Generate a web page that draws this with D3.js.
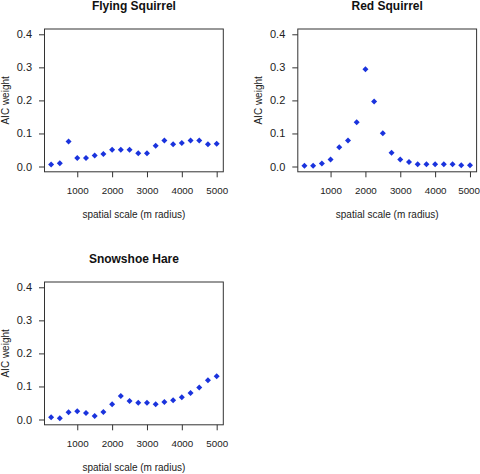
<!DOCTYPE html>
<html><head><meta charset="utf-8">
<script src="https://cdn.jsdelivr.net/npm/d3@7"></script>
<style>
html,body{margin:0;padding:0;background:#fff;}
svg{display:block;font-family:"Liberation Sans",Arial,sans-serif;}
</style></head>
<body>
<svg id="chart" width="480" height="474"></svg>
<script>
const scales = [250,500,750,1000,1250,1500,1750,2000,2250,2500,2750,3000,3250,3500,3750,4000,4250,4500,4750,5000];
const flyingSquirrel = [0.006,0.010,0.076,0.026,0.026,0.033,0.038,0.051,0.051,0.051,0.040,0.040,0.063,0.079,0.067,0.071,0.079,0.079,0.067,0.069];
const redSquirrel = [0.002,0.002,0.009,0.021,0.058,0.079,0.134,0.294,0.197,0.101,0.042,0.021,0.014,0.007,0.007,0.007,0.007,0.007,0.004,0.004];
const snowshoeHare = [0.007,0.004,0.022,0.025,0.020,0.011,0.023,0.046,0.071,0.056,0.051,0.051,0.046,0.053,0.058,0.067,0.080,0.097,0.119,0.131];
const titles = ["Flying Squirrel","Red Squirrel","Snowshoe Hare"];
const xTicks = [1000,2000,3000,4000,5000];
const yTicks = [0.0,0.1,0.2,0.3,0.4];
const xLabel = "spatial scale (m radius)";
const yLabel = "AIC weight";

const panels = [
  {title: titles[0], values: flyingSquirrel, ox: 0, oy: 0},
  {title: titles[1], values: redSquirrel, ox: 253.3, oy: 0},
  {title: titles[2], values: snowshoeHare, ox: 0, oy: 253}
];

const W = 480;
const svg = d3.select("#chart");
const box = {l: 44.5, r: 223.3, t: 29, b: 171.8};
const ink = "#333";

// R-style 4% padded limits
const xr = [250, 5000], yr = [0, 0.4];
const xp = (xr[1]-xr[0])*0.04, yp = (yr[1]-yr[0])*0.04;

panels.forEach(p => {
  const g = svg.append("g").attr("transform", `translate(${p.ox},${p.oy})`);
  const x = d3.scaleLinear().domain([xr[0]-xp, xr[1]+xp]).range([box.l, box.r]);
  const y = d3.scaleLinear().domain([yr[0]-yp, yr[1]+yp]).range([box.b, box.t]);

  g.append("rect").attr("x", box.l).attr("y", box.t)
    .attr("width", box.r-box.l).attr("height", box.b-box.t)
    .attr("fill", "none").attr("stroke", ink).attr("stroke-width", 1);

  const ax = g.append("g").attr("transform", `translate(0,${box.b})`)
    .call(d3.axisBottom(x).tickValues(xTicks).tickFormat(d3.format("d")).tickSize(5.5).tickPadding(9.5));
  ax.select(".domain").remove();
  ax.selectAll("line").attr("stroke", ink);
  ax.selectAll("text").attr("fill", "#222").attr("font-size", 9.8).attr("font-family", null);
  // keep labels inside the canvas
  ax.selectAll(".tick text").each(function(d) {
    const w = this.getComputedTextLength();
    const right = p.ox + x(d) + w/2;
    if (right > W - 0.5) d3.select(this).attr("x", (W - 0.5) - right);
  });

  const ay = g.append("g").attr("transform", `translate(${box.l},0)`)
    .call(d3.axisLeft(y).tickValues(yTicks).tickFormat(d3.format(".1f")).tickSize(5.5).tickPadding(7));
  ay.select(".domain").remove();
  ay.selectAll("line").attr("stroke", ink);
  ay.selectAll("text").attr("fill", "#222").attr("font-size", 11).attr("font-family", null);

  g.append("text").attr("x", (box.l+box.r)/2).attr("y", 10)
    .attr("text-anchor", "middle").attr("font-weight", "bold").attr("font-size", 12)
    .attr("fill", "#111").text(p.title);

  g.append("text").attr("x", (box.l+box.r)/2).attr("y", 218)
    .attr("text-anchor", "middle").attr("font-size", 10).attr("fill", "#222").text(xLabel);

  g.append("text").attr("transform", `translate(8.5,${(box.t+box.b)/2}) rotate(-90)`)
    .attr("text-anchor", "middle").attr("font-size", 10).attr("fill", "#222").text(yLabel);

  const diamond = "M0,-3L3,0L0,3L-3,0Z";
  g.append("g").selectAll("path").data(scales.map((s,i) => [s, p.values[i]]))
    .join("path")
    .attr("d", diamond)
    .attr("transform", d => `translate(${x(d[0])},${y(d[1])})`)
    .attr("fill", "#1a33dd");
});
</script>
</body></html>
